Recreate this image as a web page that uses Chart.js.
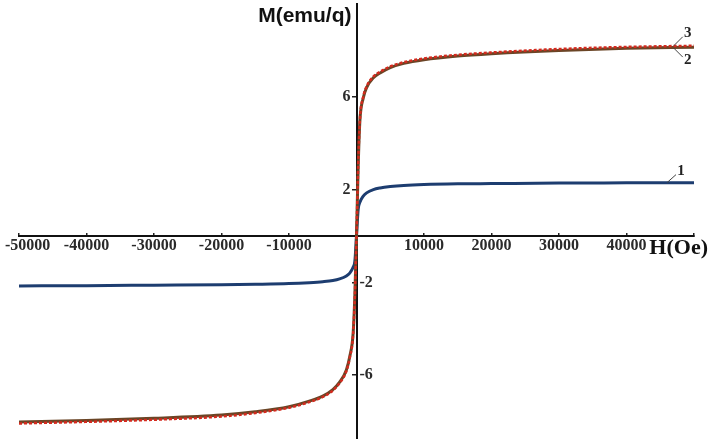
<!DOCTYPE html>
<html>
<head>
<meta charset="utf-8">
<script src="https://cdn.jsdelivr.net/npm/chart.js@4.4.0/dist/chart.umd.min.js"></script>
<style>
  html, body { margin: 0; padding: 0; background: #fff; }
</style>
</head>
<body>
<canvas id="myChart" width="710" height="439"></canvas>
<script>
// magnetic field H (Oe)
const fieldH = [-50000, -40000, -30000, -20000, -15000, -10000, -7000, -5000, -3500, -2500, -1500, -1000, -500, -250,
  0, 250, 500, 1000, 1500, 2500, 3500, 5000, 7000, 10000, 15000, 20000, 30000, 40000, 50000];

// magnetization M (emu/g) for the three samples
const curve1 = [-2.15, -2.14, -2.12, -2.10, -2.08, -2.05, -2.01, -1.97, -1.92, -1.85, -1.72, -1.60, -1.35, -1.10,
  0.00, 1.15, 1.45, 1.72, 1.86, 2.00, 2.07, 2.13, 2.18, 2.22, 2.25, 2.26, 2.28, 2.29, 2.30];
const curve2 = [-8.02, -7.95, -7.86, -7.72, -7.58, -7.36, -7.12, -6.90, -6.62, -6.30, -5.78, -5.20, -4.20, -2.60,
  0.00, 3.00, 4.95, 5.95, 6.40, 6.82, 7.03, 7.26, 7.44, 7.60, 7.76, 7.86, 8.00, 8.09, 8.14];
const curve3 = [-8.08, -8.01, -7.92, -7.78, -7.63, -7.40, -7.16, -6.94, -6.66, -6.34, -5.82, -5.25, -4.25, -2.65,
  0.00, 3.05, 5.00, 6.00, 6.45, 6.87, 7.08, 7.31, 7.49, 7.65, 7.81, 7.91, 8.06, 8.15, 8.20];

const xTickValues = [-50000, -40000, -30000, -20000, -10000, 10000, 20000, 30000, 40000];
const yTickValues = [6, 2, -2, -6];
const curveNames = ['1', '2', '3'];

function points(ys) {
  return fieldH.map((h, i) => ({ x: h, y: ys[i] }));
}

// where the little numbered leaders sit (data anchor + pixel offsets)
const tagLayout = [
  { name: curveNames[2], h: 47000, m: 8.2, dx: 9, dy: -9, tx: 14, ty: -13 },
  { name: curveNames[1], h: 47000, m: 8.1, dx: 9, dy: 9, tx: 14, ty: 12 },
  { name: curveNames[0], h: 46000, m: 2.3, dx: 9, dy: -8, tx: 14, ty: -12 }
];

const axisText = {
  id: 'axisText',
  afterDraw(chart) {
    const { ctx, scales: { x, y }, chartArea } = chart;
    const x0 = x.getPixelForValue(0);
    const y0 = y.getPixelForValue(0);
    ctx.save();
    ctx.fillStyle = '#2a2a2a';
    ctx.font = 'bold 16px "Liberation Serif"';
    ctx.textBaseline = 'middle';
    ctx.textAlign = 'center';
    xTickValues.forEach(v => {
      const label = String(v);
      const w = ctx.measureText(label).width;
      let px = x.getPixelForValue(v);
      if (px - w / 2 < 5) px = 5 + w / 2;
      ctx.fillText(label, px, y0 + 10);
    });
    yTickValues.forEach(v => {
      const py = y.getPixelForValue(v);
      if (v > 0) {
        ctx.textAlign = 'right';
        ctx.fillText(String(v), x0 - 6, py);
      } else {
        ctx.textAlign = 'left';
        ctx.fillText(String(v), x0 + 3, py);
      }
    });

    // axis titles
    ctx.fillStyle = '#111';
    ctx.font = 'bold 21px "Liberation Sans"';
    ctx.textAlign = 'right';
    ctx.textBaseline = 'alphabetic';
    ctx.fillText('M(emu/q)', x0 - 5, chartArea.top + 18);
    ctx.font = 'bold 22px "Liberation Serif"';
    ctx.textBaseline = 'middle';
    ctx.fillText('H(Oe)', chartArea.right + 14, y0 + 12);

    // numbered leaders
    ctx.strokeStyle = '#444';
    ctx.lineWidth = 1;
    ctx.fillStyle = '#222';
    ctx.font = 'bold 15px "Liberation Serif"';
    ctx.textAlign = 'center';
    tagLayout.forEach(t => {
      const ax = x.getPixelForValue(t.h);
      const ay = y.getPixelForValue(t.m);
      ctx.beginPath();
      ctx.moveTo(ax, ay);
      ctx.lineTo(ax + t.dx, ay + t.dy);
      ctx.stroke();
      ctx.fillText(t.name, ax + t.tx, ay + t.ty);
    });
    ctx.restore();
  }
};

const myChartRef = document.getElementById('myChart').getContext('2d');
new Chart(myChartRef, {
  type: 'scatter',
  data: {
    datasets: [
      {
        label: curveNames[2],
        data: points(curve3),
        showLine: true,
        borderColor: '#d42a1e',
        borderWidth: 2.5,
        borderDash: [3, 2],
        pointRadius: 0,
        cubicInterpolationMode: 'monotone'
      },
      {
        label: curveNames[1],
        data: points(curve2),
        showLine: true,
        borderColor: '#6a4526',
        borderWidth: 3,
        pointRadius: 0,
        cubicInterpolationMode: 'monotone'
      },
      {
        label: curveNames[0],
        data: points(curve1),
        showLine: true,
        borderColor: '#1d3d70',
        borderWidth: 3,
        pointRadius: 0,
        cubicInterpolationMode: 'monotone'
      }
    ]
  },
  options: {
    responsive: false,
    animation: false,
    layout: { padding: { left: 19, right: 16, top: 4, bottom: 0 } },
    plugins: {
      legend: { display: false },
      tooltip: { enabled: false }
    },
    scales: {
      x: {
        type: 'linear',
        min: -50000,
        max: 50000,
        position: { y: 0 },
        afterFit: s => { s.height = 0; },
        afterBuildTicks: s => { s.ticks = xTickValues.concat([50000]).map(v => ({ value: v })); },
        ticks: { display: false },
        grid: { drawOnChartArea: false, drawTicks: true, tickLength: -4, color: '#222', lineWidth: 1.5 },
        border: { color: '#111', width: 2 }
      },
      y: {
        type: 'linear',
        min: -8.75,
        max: 10,
        position: { x: 0 },
        afterFit: s => { s.width = 0; },
        afterBuildTicks: s => { s.ticks = yTickValues.map(v => ({ value: v })); },
        ticks: { display: false },
        grid: { drawOnChartArea: false, drawTicks: true, tickLength: 4, color: '#222', lineWidth: 1.5 },
        border: { color: '#111', width: 2 }
      }
    }
  },
  plugins: [axisText]
});
</script>
</body>
</html>
